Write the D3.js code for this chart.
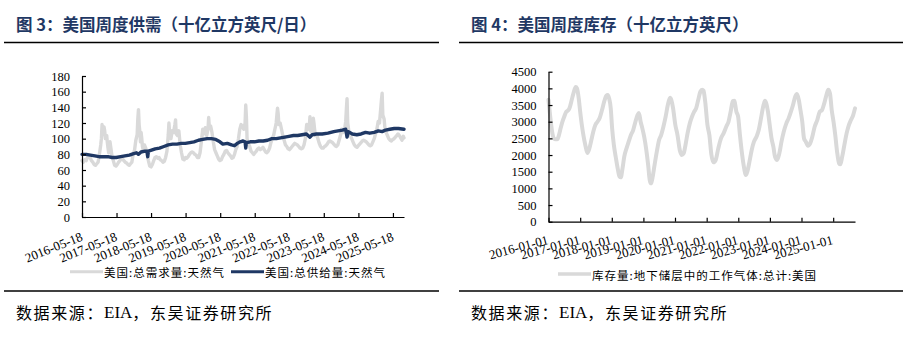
<!DOCTYPE html>
<html>
<head>
<meta charset="utf-8">
<script src="https://cdn.jsdelivr.net/npm/d3@7"></script>
<style>
  html, body { margin: 0; padding: 0; background: #fff; }
  svg { display: block; }
</style>
</head>
<body>
<svg id="chart" width="908" height="339"></svg>
<script>
// ---------- Figure 3: weekly US natural gas demand / supply (Bcf/d) ----------
const demandDates = [
  "2016-05-18","2016-06-01","2016-06-15","2016-07-01","2016-07-15","2016-07-29","2016-08-12","2016-08-26",
  "2016-09-09","2016-09-23","2016-10-07","2016-10-21","2016-11-04","2016-11-18","2016-12-02","2016-12-09",
  "2016-12-16","2016-12-23","2017-01-06","2017-01-13","2017-01-20","2017-01-27","2017-02-03","2017-02-10",
  "2017-02-17","2017-02-24","2017-03-10","2017-03-17","2017-03-31","2017-04-14","2017-04-28","2017-05-12",
  "2017-05-26","2017-06-09","2017-06-23","2017-07-07","2017-07-21","2017-08-04","2017-08-18","2017-09-01",
  "2017-09-15","2017-09-29","2017-10-13","2017-10-27","2017-11-10","2017-11-24","2017-12-08","2017-12-22",
  "2017-12-29","2018-01-05","2018-01-12","2018-01-19","2018-01-26","2018-02-02","2018-02-09","2018-02-16",
  "2018-02-23","2018-03-09","2018-03-23","2018-04-06","2018-04-20","2018-05-04","2018-05-18","2018-06-01",
  "2018-06-15","2018-06-29","2018-07-13","2018-07-27","2018-08-10","2018-08-24","2018-09-07","2018-09-21",
  "2018-10-05","2018-10-19","2018-11-02","2018-11-16","2018-11-23","2018-11-30","2018-12-14","2018-12-28",
  "2019-01-11","2019-01-25","2019-02-01","2019-02-08","2019-02-22","2019-03-08","2019-03-22","2019-04-05",
  "2019-04-19","2019-05-03","2019-05-17","2019-05-31","2019-06-14","2019-06-28","2019-07-12","2019-07-26",
  "2019-08-09","2019-08-23","2019-09-06","2019-09-20","2019-10-04","2019-10-18","2019-11-01","2019-11-15",
  "2019-11-29","2019-12-13","2019-12-27","2020-01-10","2020-01-17","2020-01-24","2020-02-07","2020-02-21",
  "2020-03-06","2020-03-20","2020-04-03","2020-04-17","2020-05-01","2020-05-15","2020-05-29","2020-06-12",
  "2020-06-26","2020-07-10","2020-07-24","2020-08-07","2020-08-21","2020-09-04","2020-09-18","2020-10-02",
  "2020-10-16","2020-10-30","2020-11-13","2020-11-27","2020-12-11","2020-12-25","2021-01-08","2021-01-22",
  "2021-02-05","2021-02-12","2021-02-19","2021-02-26","2021-03-12","2021-03-26","2021-04-09","2021-04-23",
  "2021-05-07","2021-05-21","2021-06-04","2021-06-18","2021-07-02","2021-07-16","2021-07-30","2021-08-13",
  "2021-08-27","2021-09-10","2021-09-24","2021-10-08","2021-10-22","2021-11-05","2021-11-19","2021-12-03",
  "2021-12-17","2021-12-31","2022-01-07","2022-01-14","2022-01-21","2022-01-28","2022-02-11","2022-02-25",
  "2022-03-11","2022-03-25","2022-04-08","2022-04-22","2022-05-06","2022-05-20","2022-06-03","2022-06-17",
  "2022-07-01","2022-07-15","2022-07-29","2022-08-12","2022-08-26","2022-09-09","2022-09-23","2022-10-07",
  "2022-10-21","2022-11-04","2022-11-18","2022-12-02","2022-12-16","2022-12-23","2022-12-30","2023-01-13",
  "2023-01-27","2023-02-03","2023-02-17","2023-03-03","2023-03-17","2023-03-31","2023-04-14","2023-04-28",
  "2023-05-12","2023-05-26","2023-06-09","2023-06-23","2023-07-07","2023-07-21","2023-08-04","2023-08-18",
  "2023-09-01","2023-09-15","2023-09-29","2023-10-13","2023-10-27","2023-11-10","2023-11-24","2023-12-08",
  "2023-12-22","2024-01-05","2024-01-12","2024-01-19","2024-01-26","2024-02-09","2024-02-23","2024-03-08",
  "2024-03-22","2024-04-05","2024-04-19","2024-05-03","2024-05-17","2024-05-31","2024-06-14","2024-06-28",
  "2024-07-12","2024-07-26","2024-08-09","2024-08-23","2024-09-06","2024-09-20","2024-10-04","2024-10-18",
  "2024-11-01","2024-11-15","2024-11-29","2024-12-13","2024-12-27","2025-01-10","2025-01-17","2025-01-24",
  "2025-01-31","2025-02-14","2025-02-21","2025-03-07","2025-03-21","2025-04-04","2025-04-18","2025-05-02",
  "2025-05-16","2025-05-30","2025-06-13","2025-06-27","2025-07-11","2025-07-25","2025-08-08","2025-08-22",
  "2025-09-05","2025-09-12"
];
const demandValues = [
  72,70,73,72,76,77,76,72, 70,67,66,68,70,80,92,100,
  118,105,115,110,100,103,104,95, 88,82,96,90,78,72,66,65,
  67,70,72,75,74,72,70,69, 67,66,68,70,80,85,98,105,
  125,137,118,110,96,108,100,90, 86,92,88,80,72,65,64,67,
  72,76,77,75,76,73,72,70, 71,76,84,105,120,108,100,110,
  108,118,124,106,104,110,92,82, 74,73,76,75,77,80,82,83,
  82,80,79,76,76,82,96,112, 106,114,104,112,127,115,116,108,
  96,86,82,78,74,72,73,77, 80,84,85,82,80,78,75,76,
  80,86,90,100,112,118,115,112, 120,143,128,100,94,90,84,82,
  80,82,84,87,88,86,87,89, 86,83,82,84,88,95,100,104,
  112,120,130,139,132,118,120,112, 104,98,92,90,87,86,88,90,
  92,94,93,92,90,88,87,88, 92,100,118,112,116,128,110,108,
  126,120,104,106,100,94,90,88, 88,90,91,93,96,97,96,95,
  93,91,90,92,98,104,112,108, 110,122,138,151,120,108,104,100,
  96,92,90,89,91,93,95,97, 98,97,96,94,92,91,92,96,
  100,106,112,122,120,140,150,158, 130,125,115,108,104,100,98,97,
  99,100,102,104,106,104,101,98, 103,101
];
const supplyDates = [
  "2016-05-18","2016-07-01","2016-08-15","2016-10-01","2016-11-15","2017-01-01","2017-02-15","2017-04-01",
  "2017-05-15","2017-07-01","2017-08-15","2017-10-01","2017-11-15","2017-12-15","2018-01-05","2018-02-01",
  "2018-03-15","2018-04-06","2018-04-13","2018-04-20","2018-05-15","2018-07-01","2018-08-15","2018-10-01",
  "2018-11-15","2019-01-01","2019-02-15","2019-04-01","2019-05-15","2019-07-01","2019-08-15","2019-10-01",
  "2019-11-15","2020-01-01","2020-02-15","2020-04-01","2020-05-15","2020-06-15","2020-08-01","2020-09-15",
  "2020-10-15","2020-11-15","2020-12-15","2021-01-15","2021-02-05","2021-02-12","2021-02-19","2021-04-01",
  "2021-05-15","2021-07-01","2021-08-15","2021-10-01","2021-11-15","2022-01-01","2022-02-15","2022-04-01",
  "2022-05-15","2022-07-01","2022-08-15","2022-10-01","2022-11-15","2022-12-23","2023-01-15","2023-03-01",
  "2023-05-01","2023-07-01","2023-09-01","2023-10-15","2023-12-01","2024-01-05","2024-01-19","2024-02-02",
  "2024-03-15","2024-05-01","2024-06-15","2024-08-01","2024-09-15","2024-11-01","2024-12-15","2025-01-24",
  "2025-03-01","2025-04-15","2025-06-01","2025-07-15","2025-09-12"
];
const supplyValues = [
  80,80,79,78,77,77,77,76, 76,77,78,79,81,82,80,83,
  84,84,77,84,85,87,88,90, 92,93,93,94,94,95,96,98,
  99,100,100,99,96,93,94,92, 91,94,96,97,96,88,95,96,
  96,97,97,98,100,100,101,102, 103,104,104,105,106,102,105,106,
  106,107,109,110,111,112,102,109, 106,105,106,108,107,108,110,109,
  111,112,113,113,112
];
const leftYTicks = [0, 20, 40, 60, 80, 100, 120, 140, 160, 180];
const leftXTicks = ["2016-05-18","2017-05-18","2018-05-18","2019-05-18","2020-05-18",
                    "2021-05-18","2022-05-18","2023-05-18","2024-05-18","2025-05-18"];

// ---------- Figure 4: weekly US working gas in underground storage (Bcf) ----------
const storageDates = [
  "2016-01-01","2016-01-15","2016-02-01","2016-02-15","2016-03-01","2016-03-25","2016-04-15","2016-05-01",
  "2016-05-20","2016-06-10","2016-07-01","2016-07-20","2016-08-10","2016-08-30","2016-09-20","2016-10-15",
  "2016-11-10","2016-11-25","2016-12-15","2017-01-01","2017-01-20","2017-02-10","2017-03-01","2017-03-25",
  "2017-04-15","2017-05-10","2017-06-01","2017-06-25","2017-07-20","2017-08-15","2017-09-10","2017-10-05",
  "2017-10-30","2017-11-15","2017-12-01","2017-12-20","2018-01-05","2018-01-25","2018-02-15","2018-03-10",
  "2018-04-01","2018-04-15","2018-05-05","2018-05-25","2018-06-20","2018-07-15","2018-08-10","2018-09-05",
  "2018-10-01","2018-10-25","2018-11-10","2018-11-30","2018-12-20","2019-01-10","2019-02-01","2019-02-25",
  "2019-03-15","2019-03-30","2019-04-15","2019-05-10","2019-06-05","2019-07-01","2019-07-25","2019-08-20",
  "2019-09-15","2019-10-10","2019-11-05","2019-11-20","2019-12-10","2020-01-05","2020-01-30","2020-02-25",
  "2020-03-20","2020-04-10","2020-05-01","2020-05-25","2020-06-20","2020-07-15","2020-08-10","2020-09-01",
  "2020-09-25","2020-10-20","2020-11-10","2020-11-25","2020-12-15","2021-01-10","2021-02-01","2021-02-25",
  "2021-03-20","2021-04-15","2021-05-15","2021-06-15","2021-07-15","2021-08-15","2021-09-10","2021-10-05",
  "2021-10-30","2021-11-15","2021-12-10","2021-12-30","2022-01-20","2022-02-15","2022-03-10","2022-03-28",
  "2022-04-15","2022-05-10","2022-06-05","2022-07-01","2022-07-30","2022-08-25","2022-09-20","2022-10-15",
  "2022-11-05","2022-11-20","2022-12-10","2022-12-30","2023-01-20","2023-02-10","2023-03-01","2023-03-25",
  "2023-04-20","2023-05-15","2023-06-10","2023-07-10","2023-08-05","2023-09-01","2023-09-25","2023-10-20",
  "2023-11-10","2023-12-01","2023-12-20","2024-01-10","2024-01-30","2024-02-20","2024-03-15","2024-04-10",
  "2024-05-05","2024-06-01","2024-07-01","2024-07-30","2024-08-25","2024-09-20","2024-10-15","2024-11-05",
  "2024-11-25","2024-12-15","2025-01-05","2025-01-25","2025-02-15","2025-03-10","2025-03-25","2025-04-15",
  "2025-05-10","2025-06-05","2025-07-01","2025-07-25","2025-08-20","2025-09-10"
];
const storageValues = [
  3660,3300,2900,2650,2500,2470,2480,2600, 2800,3000,3150,3280,3330,3400,3600,3850,
  4040,4000,3700,3300,2900,2550,2300,2060, 2180,2450,2700,2900,3000,3120,3350,3600,
  3780,3800,3700,3400,2800,2300,1950,1600, 1350,1330,1600,1950,2200,2400,2600,2750,
  3000,3200,3260,3000,2800,2550,2200,1700, 1250,1150,1300,1700,2100,2450,2600,2850,
  3150,3500,3720,3650,3400,2900,2600,2150, 2000,2050,2300,2650,2950,3150,3300,3400,
  3650,3900,3960,3930,3600,2900,2600,2000, 1780,1850,2200,2500,2650,2850,3000,3300,
  3620,3630,3300,3150,2600,2000,1600,1400, 1500,1800,2150,2400,2550,2750,3100,3450,
  3630,3550,3300,2900,2500,2250,1950,1850, 2050,2400,2700,2950,3100,3300,3500,3750,
  3830,3650,3350,3000,2500,2400,2280,2350, 2550,2850,3050,3300,3350,3550,3800,3960,
  3850,3350,3000,2600,2100,1750,1720,1950, 2300,2650,2900,3050,3200,3400
];
const rightYTicks = [0, 500, 1000, 1500, 2000, 2500, 3000, 3500, 4000, 4500];
const rightXTicks = ["2016-01-01","2017-01-01","2018-01-01","2019-01-01","2020-01-01",
                     "2021-01-01","2022-01-01","2023-01-01","2024-01-01","2025-01-01"];

// ---------- drawing ----------
const NAVY = "#1f3864";
const GREY = "#d9d9d9";
const CJK = "'Noto Sans CJK SC', 'Noto Sans', sans-serif";
const SERIF = "'Liberation Serif', 'DejaVu Serif', serif";
const parse = d3.timeParse("%Y-%m-%d");
const fmt = d3.timeFormat("%Y-%m-%d");
const zip = (ds, vs) => ds.map((d, i) => ({ date: parse(d), value: vs[i] }));

const svg = d3.select("#chart");

function header(x0, x1, title) {
  svg.append("text")
    .attr("x", x0 + 12).attr("y", 24)
    .attr("dominant-baseline", "central")
    .attr("font-family", CJK).attr("font-weight", 700)
    .attr("font-size", 16.5).attr("fill", NAVY)
    .text(title);
  svg.append("line")
    .attr("x1", x0).attr("x2", x1).attr("y1", 42.5).attr("y2", 42.5)
    .attr("stroke", "#000").attr("stroke-width", 1.3);
  svg.append("line")
    .attr("x1", x0).attr("x2", x1).attr("y1", 291).attr("y2", 291)
    .attr("stroke", "#000").attr("stroke-width", 1.3);
  const src = svg.append("text")
    .attr("x", x0 + 12).attr("y", 312)
    .attr("dominant-baseline", "central")
    .attr("font-family", CJK).attr("font-size", 16).attr("letter-spacing", 1.6)
    .attr("fill", "#000");
  src.append("tspan").text("数据来源：");
  src.append("tspan").attr("font-family", SERIF).attr("font-size", 17).attr("letter-spacing", 0).text("EIA");
  src.append("tspan").text("，东吴证券研究所");
}

function panel(cfg) {
  const x = d3.scaleTime().domain(cfg.xDomain).range([cfg.left, cfg.right]);
  const y = d3.scaleLinear().domain([0, d3.max(cfg.yTicks)]).range([cfg.bottom, cfg.top]);

  // series
  cfg.series.forEach(s => {
    svg.append("path")
      .datum(s.data)
      .attr("fill", "none")
      .attr("stroke", s.color)
      .attr("stroke-width", s.width)
      .attr("stroke-linejoin", "round")
      .attr("stroke-linecap", "round")
      .attr("d", d3.line().x(d => x(d.date)).y(d => y(d.value)).curve(s.curve));
  });

  // y axis
  const gy = svg.append("g")
    .attr("transform", `translate(${cfg.left},0)`)
    .call(d3.axisLeft(y).tickValues(cfg.yTicks).tickFormat(d3.format("d"))
      .tickSizeInner(-4).tickSizeOuter(0).tickPadding(12));
  gy.selectAll("text").attr("font-family", SERIF).attr("font-size", 12.5).attr("fill", "#000");

  // x axis
  const gx = svg.append("g")
    .attr("transform", `translate(0,${cfg.bottom})`)
    .call(d3.axisBottom(x).tickValues(cfg.xTicks.map(parse)).tickFormat(fmt)
      .tickSizeInner(-4).tickSizeOuter(0));
  gx.selectAll("text")
    .attr("font-family", SERIF).attr("font-size", 13).attr("fill", "#000")
    .attr("text-anchor", "end")
    .attr("x", 0).attr("y", 0).attr("dy", 0)
    .attr("transform", `translate(${cfg.labelDx},${cfg.labelDy}) rotate(${cfg.labelAngle})`);

  [gx, gy].forEach(g => {
    g.select(".domain").attr("stroke", "#000").attr("stroke-width", 1.2);
    g.selectAll(".tick line").attr("stroke", "#000").attr("stroke-width", 1.2);
  });

  // legend
  cfg.legend.forEach(l => {
    svg.append("line")
      .attr("x1", l.x).attr("x2", l.x + 33).attr("y1", cfg.legendY).attr("y2", cfg.legendY)
      .attr("stroke", l.color).attr("stroke-width", l.width);
    svg.append("text")
      .attr("x", l.x + 34).attr("y", cfg.legendY + 0.5)
      .attr("dominant-baseline", "central")
      .attr("font-family", CJK).attr("font-size", 11.5).attr("letter-spacing", 1)
      .attr("fill", "#000")
      .text(l.label);
  });
}

// Figure 3
header(4, 439, "图 3：美国周度供需（十亿立方英尺/日）");
const demand = zip(demandDates, demandValues);
const supply = zip(supplyDates, supplyValues);
panel({
  left: 82, right: 404, top: 76, bottom: 217,
  xDomain: [demand[0].date, demand[demand.length - 1].date],
  yTicks: leftYTicks, xTicks: leftXTicks,
  labelDx: 1, labelDy: 23, labelAngle: -22,
  series: [
    { data: demand, color: GREY, width: 3.4, curve: d3.curveLinear },
    { data: supply, color: NAVY, width: 3.4, curve: d3.curveLinear }
  ],
  legendY: 271.7,
  legend: [
    { x: 70, color: GREY, width: 3, label: "美国:总需求量:天然气" },
    { x: 231, color: NAVY, width: 3, label: "美国:总供给量:天然气" }
  ]
});

// Figure 4
header(459, 903, "图 4：美国周度库存（十亿立方英尺）");
const storage = zip(storageDates, storageValues);
panel({
  left: 548.5, right: 855, top: 71.7, bottom: 221.7,
  xDomain: [storage[0].date, storage[storage.length - 1].date],
  yTicks: rightYTicks, xTicks: rightXTicks,
  labelDx: 0, labelDy: 22, labelAngle: -15,
  series: [
    { data: storage, color: GREY, width: 4, curve: d3.curveMonotoneX }
  ],
  legendY: 274,
  legend: [
    { x: 558, color: GREY, width: 3.5, label: "库存量:地下储层中的工作气体:总计:美国" }
  ]
});
</script>
</body>
</html>
